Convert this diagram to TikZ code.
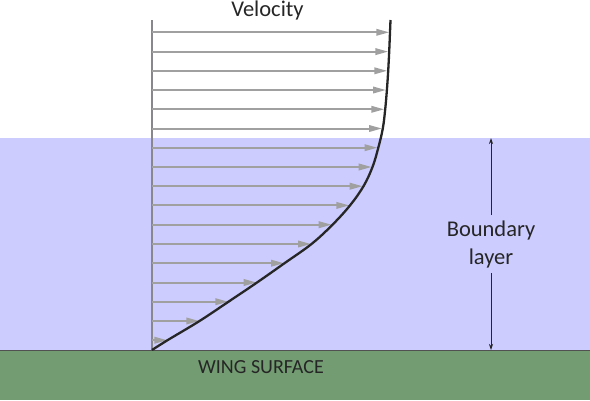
\documentclass[tikz,border=0pt]{standalone}
\usepackage{fontspec}
\setmainfont{Carlito}
\usetikzlibrary{arrows.meta}
\definecolor{bluefill}{RGB}{204,204,255}
\definecolor{greenfill}{RGB}{115,156,115}
\definecolor{arrowgray}{RGB}{160,160,160}
\definecolor{axisgray}{RGB}{136,136,140}
\definecolor{textdark}{RGB}{38,38,38}
\tikzset{
  velarrow/.style={draw=arrowgray, line width=2pt, -{Triangle[length=13pt,width=6.5pt]}},
  profile/.style={draw=textdark, line width=2.3pt},
  axisline/.style={draw=axisgray, line width=1.4pt},
  dimarrow/.style={draw=textdark, line width=0.8pt},
  label/.style={text=textdark, font=\fontsize{22.5}{28}\selectfont, align=center, inner sep=0pt},
}
\begin{document}
\begin{tikzpicture}[x=1pt,y=-1pt]
\useasboundingbox (0,0) rectangle (590,400);
\fill[bluefill] (0,138) rectangle (590,350);
\fill[greenfill] (0,350) rectangle (590,400);
\draw[draw=textdark!80, line width=1pt] (0,350) -- (590,350);
% axis
\coordinate (axtop) at (152,20);
\coordinate (axbot) at (152,350);
\draw[axisline] (axtop) -- (axbot);
% velocity arrows
\foreach \i/\y/\tx in {1/32.3/389.3, 2/51.6/388.3, 3/70.8/387.3, 4/90/386, 5/109.3/384.3, 6/128.5/382, 7/147.7/377.5, 8/167/371.7, 9/186.2/362.7, 10/205.4/349.3, 11/224.7/331.7, 12/244/311, 13/263.2/284, 14/282.5/256.7, 15/301.7/228.3, 16/321/199.3, 17/340.2/167.3} {
  \coordinate (s\i) at (152,\y);
  \coordinate (t\i) at (\tx,\y);
  \draw[velarrow] (s\i) -- (t\i);
}
% profile curve
\draw[profile] plot[smooth, tension=0.6] coordinates {(152,350) (167.5,340.2) (199.5,321) (228.5,301.7) (257,282.5) (284.5,263.2) (311.5,244) (332.5,224.7) (350,205.4) (363.5,186.2) (372.5,167) (378.3,147.7) (382.8,128.5) (385.2,109.3) (386.9,90) (388.2,70.8) (389.2,51.6) (390,32.3) (390.5,20)};
% labels
\node[label] (vel) at (267.5,10) {Velocity};
\node[label] (bl) at (491,244) {Boundary\\layer};
\node[label, font=\fontsize{20}{22}\selectfont] (wing) at (261,367) {WING SURFACE};
% boundary layer dimension
\coordinate (bltop) at (491,138);
\coordinate (blbot) at (491,350);
\draw[dimarrow, -{Stealth[length=6pt,width=4pt]}] (bl.north |- 0,215) -- (bltop);
\draw[dimarrow, -{Stealth[length=6pt,width=4pt]}] (bl.south |- 0,273) -- (blbot);
\end{tikzpicture}
\end{document}
